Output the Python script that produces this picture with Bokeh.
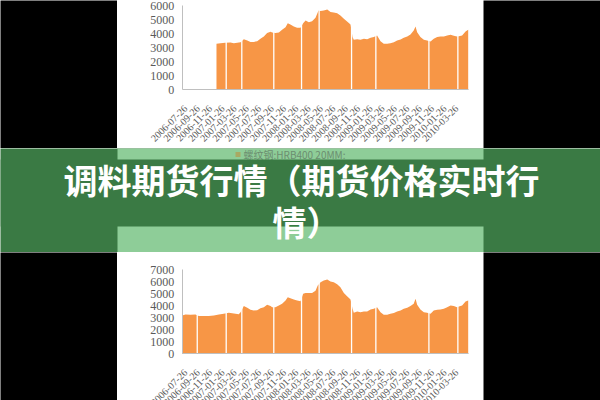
from math import pi
import pandas as pd
from bokeh.plotting import figure
from bokeh.layouts import column, row
from bokeh.models import Range1d, LinearAxis, DatetimeAxis, FixedTicker, ColumnDataSource
from bokeh.core.properties import value
from bokeh.embed import file_html
from bokeh.resources import INLINE

# ---------------- data ----------------
top_dates = ["2006-12-26", "2007-01-15", "2007-02-07", "2007-03-05", "2007-03-22", "2007-04-24",
             "2007-05-10", "2007-05-27", "2007-06-12", "2007-06-28", "2007-07-15", "2007-07-31",
             "2007-08-17", "2007-09-02", "2007-09-19", "2007-09-27", "2007-10-13", "2007-10-30",
             "2007-11-15", "2007-12-02", "2007-12-13", "2007-12-26", "2008-01-12", "2008-01-28",
             "2008-02-14", "2008-02-27", "2008-03-10", "2008-03-26", "2008-04-11", "2008-04-28",
             "2008-05-13", "2008-05-23", "2008-06-08", "2008-06-25", "2008-07-11", "2008-07-27",
             "2008-08-13", "2008-08-29", "2008-09-15", "2008-10-01", "2008-10-18", "2008-10-28",
             "2008-11-03", "2008-11-20", "2008-12-06", "2008-12-23", "2009-01-08", "2009-01-25",
             "2009-02-10", "2009-02-26", "2009-03-15", "2009-03-31", "2009-04-17", "2009-05-03",
             "2009-05-20", "2009-06-05", "2009-06-22", "2009-07-08", "2009-07-25", "2009-08-10",
             "2009-08-26", "2009-09-04", "2009-09-12", "2009-09-28", "2009-10-15", "2009-10-31",
             "2009-11-17", "2009-12-03", "2009-12-20", "2010-01-05", "2010-01-22", "2010-02-07",
             "2010-02-24", "2010-03-12", "2010-03-28", "2010-04-06", "2010-04-22", "2010-05-09",
             "2010-05-22"]
top_prices = [3270, 3320, 3340, 3370, 3320, 3390, 3600, 3510, 3410, 3410, 3460, 3630,
              3790, 4050, 4130, 4080, 4050, 4080, 4270, 4460, 4740, 4650, 4500, 4410,
              4410, 4740, 4930, 4810, 4880, 5120, 5640, 5600, 5640, 5710, 5530, 5500,
              5450, 5290, 5050, 4860, 4650, 3750, 3560, 3600, 3560, 3630, 3600, 3700,
              3750, 3870, 3460, 3270, 3270, 3320, 3390, 3510, 3580, 3700, 3790, 3940,
              4220, 4500, 4100, 3750, 3560, 3510, 3440, 3630, 3750, 3790, 3790, 3870,
              3910, 3840, 3790, 3820, 3870, 4150, 4270]
top_gaps = ["2007-02-12", "2007-04-30", "2007-10-05", "2008-02-19", "2008-05-16",
            "2008-10-23", "2009-02-20", "2009-11-09", "2010-04-01"]

bottom_dates = ["2006-07-10", "2006-07-26", "2006-08-20", "2006-09-13", "2006-09-30", "2006-10-25",
                "2006-11-18", "2006-12-13", "2007-01-07", "2007-01-31", "2007-02-25", "2007-03-22",
                "2007-04-15", "2007-04-24", "2007-05-10", "2007-05-27", "2007-06-12", "2007-06-28",
                "2007-07-15", "2007-07-31", "2007-08-17", "2007-09-02", "2007-09-19", "2007-09-27",
                "2007-10-13", "2007-10-30", "2007-11-15", "2007-12-02", "2007-12-13", "2007-12-26",
                "2008-01-12", "2008-01-28", "2008-02-14", "2008-02-27", "2008-03-10", "2008-03-26",
                "2008-04-11", "2008-04-28", "2008-05-09", "2008-05-23", "2008-06-08", "2008-06-25",
                "2008-07-11", "2008-07-27", "2008-08-13", "2008-08-29", "2008-09-15", "2008-10-01",
                "2008-10-18", "2008-10-28", "2008-11-03", "2008-11-20", "2008-12-06", "2008-12-23",
                "2009-01-08", "2009-01-25", "2009-02-10", "2009-02-26", "2009-03-15", "2009-03-31",
                "2009-04-17", "2009-05-03", "2009-05-20", "2009-06-05", "2009-06-22", "2009-07-08",
                "2009-07-25", "2009-08-10", "2009-08-26", "2009-09-04", "2009-09-12", "2009-09-28",
                "2009-10-15", "2009-10-31", "2009-11-17", "2009-12-03", "2009-12-20", "2010-01-05",
                "2010-01-22", "2010-02-07", "2010-02-24", "2010-03-12", "2010-03-28", "2010-04-06",
                "2010-04-22", "2010-05-09", "2010-05-22"]
bottom_prices = [3180, 3270, 3240, 3270, 3130, 3130, 3150, 3180, 3270, 3320, 3400, 3350,
                 3290, 3460, 3960, 3820, 3650, 3600, 3620, 3790, 3870, 4070, 3960, 3870,
                 3870, 4010, 4150, 4430, 4700, 4620, 4510, 4430, 4370, 4980, 5060, 5040,
                 5060, 5230, 5670, 5950, 6090, 6170, 6000, 5950, 5780, 5530, 5060, 4790,
                 4510, 3740, 3400, 3510, 3460, 3510, 3510, 3680, 3740, 3870, 3460, 3240,
                 3240, 3320, 3380, 3510, 3600, 3740, 3820, 3960, 4150, 4570, 4070, 3680,
                 3460, 3400, 3320, 3600, 3650, 3680, 3740, 3870, 4010, 3960, 3870, 3930,
                 4010, 4340, 4430]
bottom_gaps = ["2006-09-22", "2007-02-12", "2007-04-30", "2007-10-05", "2008-02-19", "2008-05-16",
               "2008-10-23", "2009-02-20", "2009-11-09", "2010-04-01"]

tick_labels = ["2006-07-26", "2006-09-26", "2006-11-26", "2007-01-26", "2007-03-26", "2007-05-26",
               "2007-07-26", "2007-09-26", "2007-11-26", "2008-01-26", "2008-03-26", "2008-05-26",
               "2008-07-26", "2008-09-26", "2008-11-26", "2009-01-26", "2009-03-26", "2009-05-26",
               "2009-07-26", "2009-09-26", "2009-11-26", "2010-01-26", "2010-03-26"]
top_yticks = [0, 1000, 2000, 3000, 4000, 5000, 6000]
bottom_yticks = [0, 1000, 2000, 3000, 4000, 5000, 6000, 7000]

legend_line1 = "螺纹钢:HRB400 20MM:"
legend_line2 = "上海"
title_line1 = "调料期货行情（期货价格实时行"
title_line2 = "情）"

# ---------------- styling ----------------
ORANGE = "#F79646"
DARK_GREEN = "#3A7A44"
LIGHT_GREEN = "#8ECD98"
AXIS_GRAY = "#BFBFBF"
LABEL_GRAY = "#595959"


def ms(s):
    return int(pd.Timestamp(s).value // 10**6)


X0 = pd.Timestamp("2005-08-24 05:00")
X1 = pd.Timestamp("2010-08-05 14:00")
AX_START = "2006-07-10"
AX_END = "2010-05-23"
tick_ms = [ms(t) for t in tick_labels]


def black_block(w, h):
    b = figure(width=w, height=h, toolbar_location=None, output_backend="svg",
               x_axis_location=None, y_axis_location=None, min_border=0,
               background_fill_color="black", border_fill_color="black",
               outline_line_color=None, x_range=Range1d(0, 1), y_range=Range1d(0, 1))
    b.grid.visible = False
    return b


def make_chart(dates, prices, gaps, yticks, ystart, yend, axis_top):
    p = figure(width=366, height=148, toolbar_location=None, output_backend="svg",
               x_range=Range1d(X0, X1), y_range=Range1d(ystart, yend),
               x_axis_type="datetime", x_axis_location=None, y_axis_location=None,
               min_border=0, background_fill_color="white", border_fill_color="white",
               outline_line_color=None)
    p.grid.visible = False
    src = ColumnDataSource(dict(x=pd.to_datetime(dates), y=prices))
    p.varea(x="x", y1=0, y2="y", source=src, fill_color=ORANGE)
    gsrc = ColumnDataSource(dict(x=pd.to_datetime(gaps)))
    p.segment(x0="x", y0=0, x1="x", y1=axis_top, source=gsrc,
              line_color="white", line_width=1.3)

    yaxis = LinearAxis(ticker=FixedTicker(ticks=yticks), fixed_location=ms(AX_START),
                       bounds=(0, axis_top))
    xaxis = DatetimeAxis(ticker=FixedTicker(ticks=tick_ms), fixed_location=0,
                         bounds=(ms(AX_START), ms(AX_END)),
                         major_label_overrides=dict(zip(tick_ms, tick_labels)),
                         major_label_orientation=pi / 4)
    for ax in (yaxis, xaxis):
        ax.axis_line_color = AXIS_GRAY
        ax.major_tick_line_color = None
        ax.minor_tick_line_color = None
        ax.major_tick_out = 0
        ax.major_tick_in = 0
        ax.major_label_text_font = "Liberation Serif"
        ax.major_label_text_color = LABEL_GRAY
    yaxis.major_label_text_font_size = "12px"
    yaxis.major_label_standoff = 8
    xaxis.major_label_text_font_size = "10px"
    xaxis.major_label_standoff = 17
    p.add_layout(yaxis, "left")
    p.add_layout(xaxis, "below")
    return p


top = make_chart(top_dates, top_prices, top_gaps, top_yticks, -4178, 6356, 6000)
bottom = make_chart(bottom_dates, bottom_prices, bottom_gaps, bottom_yticks, -3879, 8414, 7000)

# ---------------- banner ----------------
ban = figure(width=600, height=104, toolbar_location=None, output_backend="svg",
             x_range=Range1d(0, 600), y_range=Range1d(252, 148),
             x_axis_location=None, y_axis_location=None, min_border=0,
             background_fill_color=DARK_GREEN, border_fill_color=DARK_GREEN,
             outline_line_color=None)
ban.grid.visible = False
ban.quad(left=[117], right=[483], top=[148], bottom=[252], fill_color=LIGHT_GREEN, line_color=None)
ban.quad(left=[235], right=[240], top=[151.5], bottom=[156.5], fill_color="#A9A963", line_color=None)
ban.text(x=[243, 243], y=[154, 168], text=[legend_line1, legend_line2],
         text_font=value("Noto Sans CJK SC"), text_font_size="10px",
         text_color="#6C8E70", text_baseline="middle", text_align="left")
ban.quad(left=[0], right=[600], top=[159], bottom=[226], fill_color=DARK_GREEN, line_color=None)
ban.text(x=[301, 306], y=[179, 221], text=[title_line1, title_line2],
         text_font=value("Noto Sans CJK SC"), text_font_size="34px", text_font_style="bold",
         text_color="white", text_baseline="middle", text_align="center")

layout = column(row(black_block(117, 148), top, black_block(117, 148)),
                ban,
                row(black_block(117, 148), bottom, black_block(117, 148)))

open("out.html", "w").write(file_html(layout, INLINE))
